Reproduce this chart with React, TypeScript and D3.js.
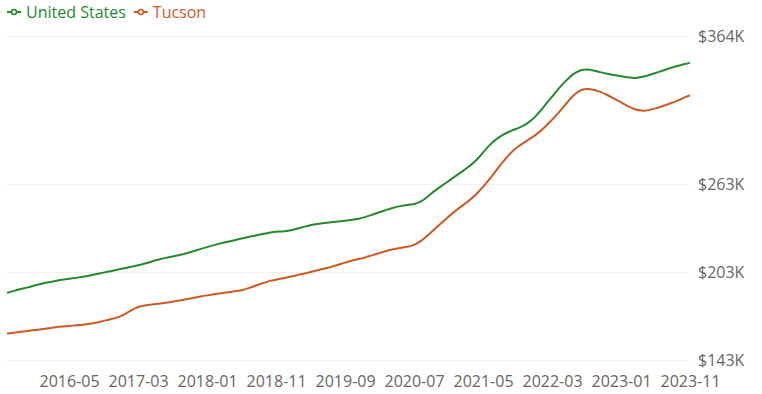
import * as d3 from 'd3';
import { useRef, useEffect } from 'react';

// monthly home values, Aug 2015 - Nov 2023, in $K
const usValues: number[] = [
    188.8, 190.2, 191.4, 192.5, 193.8, 195.0, 196.0, 196.9, 197.7, 198.4,
    199.0, 199.7, 200.6, 201.6, 202.6, 203.6, 204.6, 205.6, 206.6, 207.6,
    208.8, 210.2, 211.6, 212.7, 213.6, 214.6, 215.8, 217.2, 218.6, 220.0,
    221.4, 222.6, 223.6, 224.7, 225.9, 227.0, 227.9, 228.9, 229.8, 230.6,
    230.6, 231.3, 232.5, 233.8, 235.0, 235.8, 236.4, 236.9, 237.5, 238.0,
    238.6, 239.3, 240.6, 242.2, 243.8, 245.4, 246.9, 248.0, 248.8, 249.3,
    250.8, 254.5, 258.5, 261.8, 265.0, 268.4, 271.7, 275.0, 279.0, 284.5,
    290.0, 294.0, 297.0, 299.2, 301.0, 303.0, 306.2, 311.0, 317.0, 322.5,
    328.5, 333.5, 338.0, 340.6, 341.4, 340.6, 339.3, 338.3, 337.4, 336.6,
    335.8, 335.2, 335.9, 337.2, 338.8, 340.3, 341.9, 343.4, 344.6, 345.7,
];

const tucsonValues: number[] = [
    161.0, 161.6, 162.2, 162.8, 163.4, 164.0, 164.6, 165.3, 165.8, 166.2,
    166.7, 167.1, 167.6, 168.6, 169.7, 170.7, 171.9, 174.0, 177.0, 179.4,
    180.3, 180.8, 181.3, 182.0, 182.8, 183.5, 184.4, 185.3, 186.3, 187.1,
    187.8, 188.5, 189.2, 189.8, 190.5, 192.0, 193.6, 195.3, 196.9, 197.8,
    198.7, 199.8, 200.9, 201.8, 203.0, 204.2, 205.4, 206.4, 208.0, 209.4,
    211.0, 211.8, 213.0, 214.6, 216.0, 217.4, 218.5, 219.5, 220.2, 221.3,
    224.0, 228.0, 232.3, 236.6, 240.8, 244.8, 248.3, 251.8, 255.8, 261.0,
    266.5, 273.0, 279.0, 284.3, 288.4, 291.5, 294.4, 297.8, 302.0, 306.8,
    311.8, 317.5, 323.3, 327.0, 328.2, 327.5, 326.0, 323.8, 321.3, 318.8,
    316.0, 313.8, 312.9, 313.3, 314.6, 316.0, 317.8, 319.5, 321.6, 323.6,
];

const months: string[] = d3.timeMonth
    .range(new Date(2015, 7, 1), new Date(2023, 11, 1))
    .map(d3.timeFormat('%Y-%m'));

const tickLabels: string[] = [
    '2016-05', '2017-03', '2018-01', '2018-11', '2019-09',
    '2020-07', '2021-05', '2022-03', '2023-01', '2023-11',
];

const yTicks: number[] = [143, 203, 263, 364];

const seriesNames: string[] = ['United States', 'Tucson'];
const seriesColors: string[] = ['#238B2B', '#CC5A22'];

const App = () => {
    const ref = useRef<SVGSVGElement>(null);

    useEffect(() => {
        if (!ref.current) return;
        const svg = d3.select(ref.current);
        svg.selectAll('*').remove();

        const left = 7, right = 690, top = 36, bottom = 360;
        const font = '"Open Sans", sans-serif';

        const x = d3.scalePoint<string>().domain(months).range([left, right]);
        const y = d3.scaleLinear().domain([143, 364]).range([bottom, top]);

        // y axis + gridlines
        const yAxis = svg.append('g')
            .attr('transform', `translate(${right},0)`)
            .call(d3.axisRight(y)
                .tickValues(yTicks)
                .tickSizeInner(-(right - left))
                .tickSizeOuter(0)
                .tickPadding(8)
                .tickFormat(d => `$${d}K`));
        yAxis.select('.domain').remove();
        yAxis.selectAll('line').attr('stroke', '#f0f0f0');
        yAxis.selectAll('text')
            .attr('font-family', font)
            .attr('font-size', 16)
            .attr('fill', '#666');

        // x axis
        const xAxis = svg.append('g')
            .attr('transform', `translate(0,${bottom + 10})`)
            .call(d3.axisBottom(x).tickValues(tickLabels).tickSize(0).tickPadding(6));
        xAxis.select('.domain').remove();
        xAxis.selectAll('text')
            .attr('font-family', font)
            .attr('font-size', 16)
            .attr('fill', '#666');

        const line = d3.line<number>()
            .x((_, i) => x(months[i])!)
            .y(d => y(d))
            .curve(d3.curveBasis);

        [usValues, tucsonValues].forEach((vals, i) => {
            svg.append('path')
                .datum(vals)
                .attr('d', line)
                .attr('fill', 'none')
                .attr('stroke', seriesColors[i])
                .attr('stroke-width', 2);
        });

        // legend
        const legend = svg.append('g').attr('transform', 'translate(7,12)');
        let lx = 0;
        seriesNames.forEach((name, i) => {
            const g = legend.append('g').attr('transform', `translate(${lx},0)`);
            g.append('line')
                .attr('x1', 0).attr('x2', 14)
                .attr('stroke', seriesColors[i]).attr('stroke-width', 2);
            g.append('circle')
                .attr('cx', 7).attr('r', 2.5)
                .attr('fill', '#fff')
                .attr('stroke', seriesColors[i]).attr('stroke-width', 1.5);
            const t = g.append('text')
                .attr('x', 19).attr('dy', '0.35em')
                .attr('font-family', font)
                .attr('font-size', 16)
                .attr('fill', seriesColors[i])
                .text(name);
            lx += 19 + (t.node() as SVGTextElement).getComputedTextLength() + 8;
        });
    }, []);

    return (
        <svg ref={ref} width={762} height={394}
            style={{ position: 'absolute', left: 0, top: 0, background: '#fff' }} />
    );
};

export default App;
